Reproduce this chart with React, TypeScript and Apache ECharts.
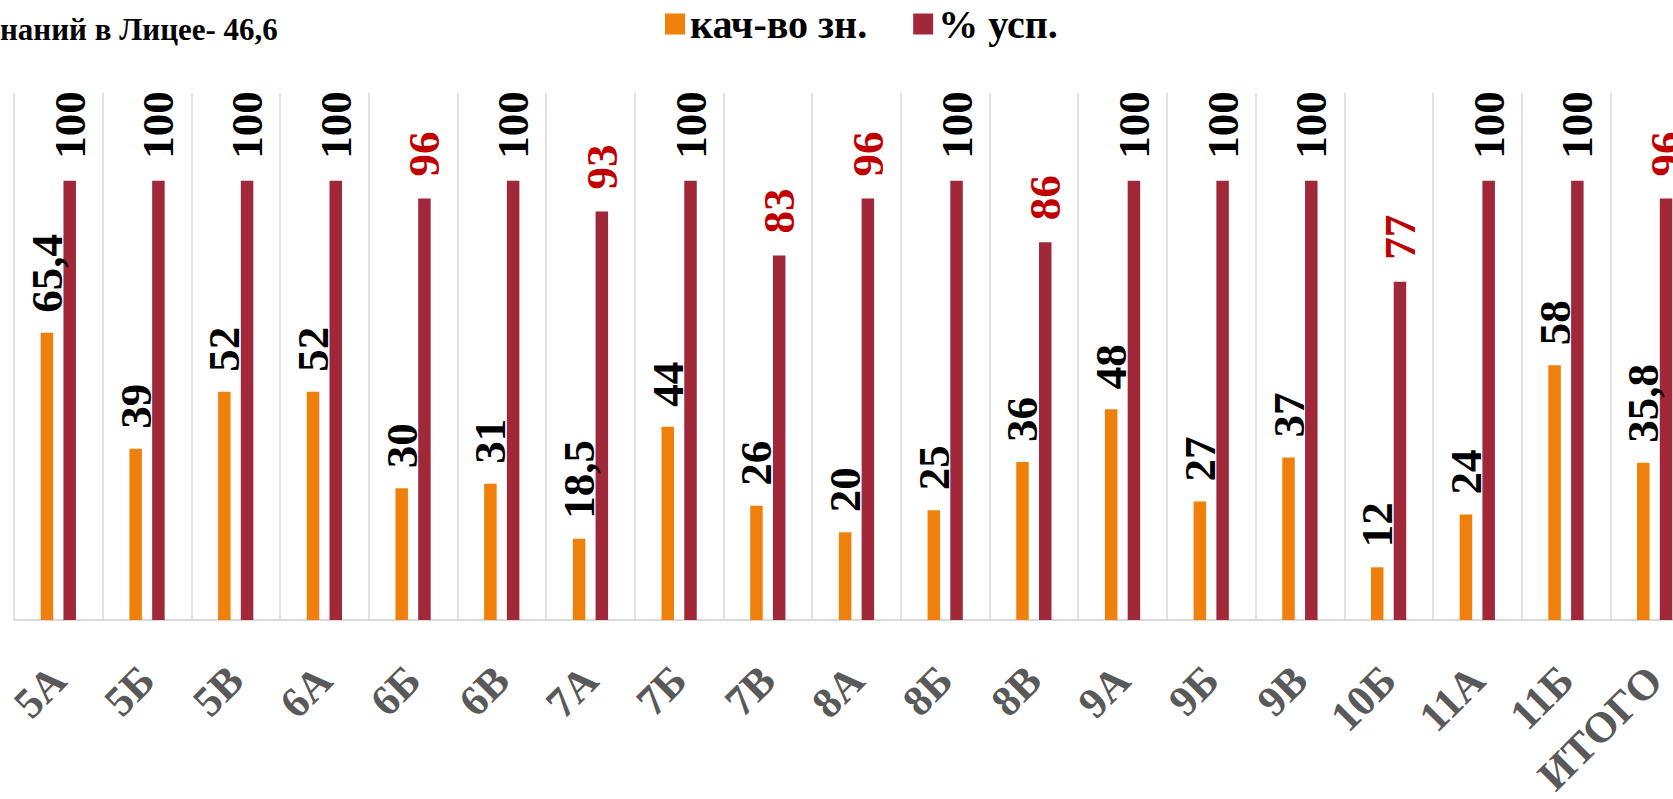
import React, { useEffect, useRef } from "react";
import * as echarts from "echarts";

const categories = ["5А", "5Б", "5В", "6А", "6Б", "6В", "7А", "7Б", "7В", "8А", "8Б", "8В", "9А", "9Б", "9В", "10Б", "11А", "11Б", "ИТОГО"];
const quality = [65.4, 39, 52, 52, 30, 31, 18.5, 44, 26, 20, 25, 36, 48, 27, 37, 12, 24, 58, 35.8];
const success = [100, 100, 100, 100, 96, 100, 93, 100, 83, 96, 100, 86, 100, 100, 100, 77, 100, 100, 96];
const seriesNames = ["кач-во зн.", "% усп."];
const titleText = "наний в Лицее- 46,6";

const FONT = "'Liberation Serif', 'Times New Roman', serif";
const ORANGE = "#F0800C";
const DARKRED = "#A12839";

export default function App() {
  const ref = useRef<HTMLDivElement>(null);
  useEffect(() => {
    if (!ref.current) return;
    const chart = echarts.init(ref.current, null, { renderer: "svg" });
    const fmt = (p: any) => String(p.value).replace(".", ",");
    chart.setOption({
      animation: false,
      backgroundColor: "#ffffff",
      graphic: [
        {
          type: "text",
          left: 0,
          top: 14,
          style: {
            text: titleText,
            font: `bold 31px ${FONT}`,
            fill: "#000000",
          },
        },
      ],
      legend: {
        top: 4,
        left: 665,
        padding: 0,
        itemWidth: 20,
        itemHeight: 21,
        itemGap: 46,
        icon: "rect",
        textStyle: { fontFamily: FONT, fontWeight: "bold", fontSize: 40, color: "#000000", padding: [0, 0, 0, 0] },
        data: seriesNames,
      },
      grid: { left: 14, top: 93, width: 1685, height: 527, containLabel: false, outerBoundsMode: "none" },
      xAxis: {
        type: "category",
        data: categories,
        axisLine: { lineStyle: { color: "#d9d9d9", width: 2 } },
        axisTick: { show: false },
        splitLine: { show: true, lineStyle: { color: "#d9d9d9", width: 1.5 } },
        axisLabel: {
          interval: 0,
          rotate: 45,
          margin: 53,
          fontFamily: FONT,
          fontWeight: "bold",
          fontSize: 43,
          color: "#595959",
        },
      },
      yAxis: {
        type: "value",
        min: 0,
        max: 120,
        show: false,
        splitLine: { show: false },
      },
      series: [
        {
          name: seriesNames[0],
          type: "bar",
          barWidth: 12.5,
          barGap: "82%",
          itemStyle: { color: ORANGE },
          label: {
            show: true,
            position: "top",
            rotate: 90,
            distance: 20,
            align: "left",
            verticalAlign: "middle",
            fontFamily: FONT,
            fontWeight: "bold",
            fontSize: 45,
            color: "#000000",
            formatter: fmt,
          },
          data: quality,
        },
        {
          name: seriesNames[1],
          type: "bar",
          barWidth: 12.5,
          itemStyle: { color: DARKRED },
          label: {
            show: true,
            position: "top",
            rotate: 90,
            distance: 22,
            align: "left",
            verticalAlign: "middle",
            fontFamily: FONT,
            fontWeight: "bold",
            fontSize: 45,
            color: "#000000",
            formatter: fmt,
          },
          data: success.map((v) => (v < 100 ? { value: v, label: { color: "#C00000" } } : v)),
        },
      ],
    });
    return () => chart.dispose();
  }, []);
  return (
    <div style={{ position: "fixed", left: 0, top: 0, width: 1673, height: 799, overflow: "hidden", background: "#fff" }}>
      <div ref={ref} style={{ width: 1720, height: 799 }} />
    </div>
  );
}
